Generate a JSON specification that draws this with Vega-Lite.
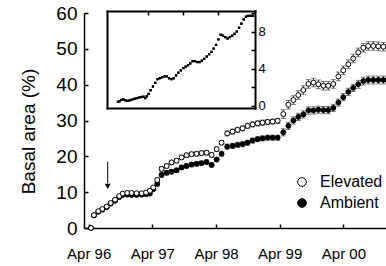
{
  "$schema": "https://vega.github.io/schema/vega-lite/v6.json",
  "width": 302,
  "height": 215,
  "autosize": {"type": "none"},
  "padding": {"left": 84, "top": 13, "right": 0, "bottom": 38},
  "config": {
    "view": {"stroke": null},
    "font": "Liberation Sans",
    "axis": {"grid": false, "domainColor": "black", "tickColor": "black", "labelColor": "black", "titleColor": "black", "labelFont": "Liberation Sans", "titleFont": "Liberation Sans", "titleFontWeight": "normal"},
    "legend": {"labelFont": "Liberation Sans"}
  },
  "datasets": {
    "main": [
      {"date": "1996-04-14", "treatment": "Ambient", "value": 0, "err": 0.3},
      {"date": "1996-05-01", "treatment": "Ambient", "value": 3.5, "err": 0.3},
      {"date": "1996-05-26", "treatment": "Ambient", "value": 4.5, "err": 0.3},
      {"date": "1996-06-18", "treatment": "Ambient", "value": 5.1, "err": 0.3},
      {"date": "1996-07-13", "treatment": "Ambient", "value": 5.8, "err": 0.3},
      {"date": "1996-08-05", "treatment": "Ambient", "value": 6.8, "err": 0.3},
      {"date": "1996-08-30", "treatment": "Ambient", "value": 7.6, "err": 0.3},
      {"date": "1996-09-23", "treatment": "Ambient", "value": 8.6, "err": 0.3},
      {"date": "1996-10-13", "treatment": "Ambient", "value": 9.2, "err": 0.3},
      {"date": "1996-11-08", "treatment": "Ambient", "value": 9.3, "err": 0.3},
      {"date": "1996-12-03", "treatment": "Ambient", "value": 9.2, "err": 0.3},
      {"date": "1997-01-01", "treatment": "Ambient", "value": 9.2, "err": 0.3},
      {"date": "1997-01-30", "treatment": "Ambient", "value": 9.3, "err": 0.3},
      {"date": "1997-02-24", "treatment": "Ambient", "value": 9.4, "err": 0.3},
      {"date": "1997-03-18", "treatment": "Ambient", "value": 9.6, "err": 0.3},
      {"date": "1997-04-06", "treatment": "Ambient", "value": 10.8, "err": 0.3},
      {"date": "1997-04-29", "treatment": "Ambient", "value": 12.3, "err": 0.6},
      {"date": "1997-05-24", "treatment": "Ambient", "value": 14.8, "err": 0.6},
      {"date": "1997-06-22", "treatment": "Ambient", "value": 15.4, "err": 0.6},
      {"date": "1997-07-20", "treatment": "Ambient", "value": 15.7, "err": 0.6},
      {"date": "1997-08-18", "treatment": "Ambient", "value": 16.1, "err": 0.6},
      {"date": "1997-09-16", "treatment": "Ambient", "value": 16.9, "err": 0.6},
      {"date": "1997-10-14", "treatment": "Ambient", "value": 17.3, "err": 0.6},
      {"date": "1997-11-12", "treatment": "Ambient", "value": 17.7, "err": 0.6},
      {"date": "1997-12-11", "treatment": "Ambient", "value": 17.9, "err": 0.6},
      {"date": "1998-01-08", "treatment": "Ambient", "value": 18.1, "err": 0.6},
      {"date": "1998-02-06", "treatment": "Ambient", "value": 18.4, "err": 0.6},
      {"date": "1998-03-07", "treatment": "Ambient", "value": 17.6, "err": 0.6},
      {"date": "1998-04-05", "treatment": "Ambient", "value": 19.1, "err": 0.6},
      {"date": "1998-05-03", "treatment": "Ambient", "value": 20.7, "err": 0.6},
      {"date": "1998-06-04", "treatment": "Ambient", "value": 22.7, "err": 0.7},
      {"date": "1998-07-05", "treatment": "Ambient", "value": 22.9, "err": 0.7},
      {"date": "1998-08-03", "treatment": "Ambient", "value": 23.2, "err": 0.7},
      {"date": "1998-09-01", "treatment": "Ambient", "value": 23.4, "err": 0.7},
      {"date": "1998-09-29", "treatment": "Ambient", "value": 23.8, "err": 0.7},
      {"date": "1998-10-28", "treatment": "Ambient", "value": 24.4, "err": 0.7},
      {"date": "1998-11-26", "treatment": "Ambient", "value": 24.8, "err": 0.7},
      {"date": "1998-12-24", "treatment": "Ambient", "value": 25.0, "err": 0.7},
      {"date": "1999-01-22", "treatment": "Ambient", "value": 25.2, "err": 0.7},
      {"date": "1999-02-20", "treatment": "Ambient", "value": 25.2, "err": 0.7},
      {"date": "1999-03-21", "treatment": "Ambient", "value": 25.2, "err": 0.7},
      {"date": "1999-04-22", "treatment": "Ambient", "value": 26.7, "err": 1.0},
      {"date": "1999-05-21", "treatment": "Ambient", "value": 28.5, "err": 1.0},
      {"date": "1999-06-19", "treatment": "Ambient", "value": 30.0, "err": 1.0},
      {"date": "1999-07-17", "treatment": "Ambient", "value": 31.0, "err": 1.0},
      {"date": "1999-08-15", "treatment": "Ambient", "value": 31.7, "err": 1.0},
      {"date": "1999-09-13", "treatment": "Ambient", "value": 32.8, "err": 1.0},
      {"date": "1999-10-12", "treatment": "Ambient", "value": 32.8, "err": 1.0},
      {"date": "1999-11-09", "treatment": "Ambient", "value": 33.0, "err": 1.0},
      {"date": "1999-12-08", "treatment": "Ambient", "value": 32.9, "err": 1.0},
      {"date": "2000-01-05", "treatment": "Ambient", "value": 32.9, "err": 1.0},
      {"date": "2000-02-03", "treatment": "Ambient", "value": 33.5, "err": 1.0},
      {"date": "2000-03-03", "treatment": "Ambient", "value": 35.0, "err": 1.0},
      {"date": "2000-03-31", "treatment": "Ambient", "value": 36.5, "err": 1.0},
      {"date": "2000-04-29", "treatment": "Ambient", "value": 38.0, "err": 1.0},
      {"date": "2000-05-27", "treatment": "Ambient", "value": 39.1, "err": 1.0},
      {"date": "2000-06-25", "treatment": "Ambient", "value": 40.1, "err": 1.1},
      {"date": "2000-07-24", "treatment": "Ambient", "value": 41.0, "err": 1.1},
      {"date": "2000-08-21", "treatment": "Ambient", "value": 41.3, "err": 1.1},
      {"date": "2000-09-19", "treatment": "Ambient", "value": 41.3, "err": 1.1},
      {"date": "2000-10-18", "treatment": "Ambient", "value": 41.3, "err": 1.1},
      {"date": "2000-11-16", "treatment": "Ambient", "value": 41.3, "err": 1.1},
      {"date": "1996-04-14", "treatment": "Elevated", "value": 0, "err": 0.3},
      {"date": "1996-05-01", "treatment": "Elevated", "value": 3.6, "err": 0.3},
      {"date": "1996-05-26", "treatment": "Elevated", "value": 4.7, "err": 0.3},
      {"date": "1996-06-18", "treatment": "Elevated", "value": 5.3, "err": 0.3},
      {"date": "1996-07-13", "treatment": "Elevated", "value": 6.0, "err": 0.3},
      {"date": "1996-08-05", "treatment": "Elevated", "value": 7.0, "err": 0.3},
      {"date": "1996-08-30", "treatment": "Elevated", "value": 7.9, "err": 0.3},
      {"date": "1996-09-23", "treatment": "Elevated", "value": 8.9, "err": 0.3},
      {"date": "1996-10-13", "treatment": "Elevated", "value": 9.6, "err": 0.3},
      {"date": "1996-11-08", "treatment": "Elevated", "value": 9.8, "err": 0.3},
      {"date": "1996-12-03", "treatment": "Elevated", "value": 9.8, "err": 0.3},
      {"date": "1997-01-01", "treatment": "Elevated", "value": 9.7, "err": 0.3},
      {"date": "1997-01-30", "treatment": "Elevated", "value": 9.7, "err": 0.3},
      {"date": "1997-02-24", "treatment": "Elevated", "value": 9.9, "err": 0.3},
      {"date": "1997-03-18", "treatment": "Elevated", "value": 10.4, "err": 0.3},
      {"date": "1997-04-06", "treatment": "Elevated", "value": 11.3, "err": 0.3},
      {"date": "1997-04-29", "treatment": "Elevated", "value": 13.4, "err": 0.6},
      {"date": "1997-05-24", "treatment": "Elevated", "value": 16.5, "err": 0.6},
      {"date": "1997-06-22", "treatment": "Elevated", "value": 17.3, "err": 0.6},
      {"date": "1997-07-20", "treatment": "Elevated", "value": 18.3, "err": 0.6},
      {"date": "1997-08-18", "treatment": "Elevated", "value": 18.8, "err": 0.6},
      {"date": "1997-09-16", "treatment": "Elevated", "value": 19.7, "err": 0.6},
      {"date": "1997-10-14", "treatment": "Elevated", "value": 20.3, "err": 0.6},
      {"date": "1997-11-12", "treatment": "Elevated", "value": 20.6, "err": 0.6},
      {"date": "1997-12-11", "treatment": "Elevated", "value": 20.7, "err": 0.6},
      {"date": "1998-01-08", "treatment": "Elevated", "value": 20.9, "err": 0.6},
      {"date": "1998-02-06", "treatment": "Elevated", "value": 21.0, "err": 0.6},
      {"date": "1998-03-07", "treatment": "Elevated", "value": 20.4, "err": 0.6},
      {"date": "1998-04-05", "treatment": "Elevated", "value": 22.0, "err": 0.6},
      {"date": "1998-05-03", "treatment": "Elevated", "value": 23.8, "err": 0.6},
      {"date": "1998-06-04", "treatment": "Elevated", "value": 26.4, "err": 0.7},
      {"date": "1998-07-05", "treatment": "Elevated", "value": 26.9, "err": 0.7},
      {"date": "1998-08-03", "treatment": "Elevated", "value": 27.4, "err": 0.7},
      {"date": "1998-09-01", "treatment": "Elevated", "value": 27.8, "err": 0.7},
      {"date": "1998-09-29", "treatment": "Elevated", "value": 28.5, "err": 0.7},
      {"date": "1998-10-28", "treatment": "Elevated", "value": 28.9, "err": 0.7},
      {"date": "1998-11-26", "treatment": "Elevated", "value": 29.2, "err": 0.7},
      {"date": "1998-12-24", "treatment": "Elevated", "value": 29.4, "err": 0.7},
      {"date": "1999-01-22", "treatment": "Elevated", "value": 29.6, "err": 0.7},
      {"date": "1999-02-20", "treatment": "Elevated", "value": 29.7, "err": 0.7},
      {"date": "1999-03-21", "treatment": "Elevated", "value": 29.9, "err": 0.7},
      {"date": "1999-04-22", "treatment": "Elevated", "value": 31.8, "err": 1.2},
      {"date": "1999-05-21", "treatment": "Elevated", "value": 34.4, "err": 1.2},
      {"date": "1999-06-19", "treatment": "Elevated", "value": 35.7, "err": 1.2},
      {"date": "1999-07-17", "treatment": "Elevated", "value": 37.1, "err": 1.2},
      {"date": "1999-08-15", "treatment": "Elevated", "value": 38.5, "err": 1.2},
      {"date": "1999-09-13", "treatment": "Elevated", "value": 40.2, "err": 1.2},
      {"date": "1999-10-12", "treatment": "Elevated", "value": 40.6, "err": 1.2},
      {"date": "1999-11-09", "treatment": "Elevated", "value": 40.1, "err": 1.2},
      {"date": "1999-12-08", "treatment": "Elevated", "value": 39.7, "err": 1.2},
      {"date": "2000-01-05", "treatment": "Elevated", "value": 39.7, "err": 1.2},
      {"date": "2000-02-03", "treatment": "Elevated", "value": 40.2, "err": 1.2},
      {"date": "2000-03-03", "treatment": "Elevated", "value": 42.3, "err": 1.2},
      {"date": "2000-03-31", "treatment": "Elevated", "value": 44.0, "err": 1.2},
      {"date": "2000-04-29", "treatment": "Elevated", "value": 45.7, "err": 1.2},
      {"date": "2000-05-27", "treatment": "Elevated", "value": 47.3, "err": 1.2},
      {"date": "2000-06-25", "treatment": "Elevated", "value": 49.0, "err": 1.2},
      {"date": "2000-07-24", "treatment": "Elevated", "value": 50.3, "err": 1.2},
      {"date": "2000-08-21", "treatment": "Elevated", "value": 50.8, "err": 1.2},
      {"date": "2000-09-19", "treatment": "Elevated", "value": 50.8, "err": 1.2},
      {"date": "2000-10-18", "treatment": "Elevated", "value": 50.7, "err": 1.2},
      {"date": "2000-11-16", "treatment": "Elevated", "value": 50.6, "err": 1.2}
    ],
    "inset": [
      {"date": "1996-04-14", "diff": 0.45}, {"date": "1996-05-01", "diff": 0.5}, {"date": "1996-05-26", "diff": 0.65},
      {"date": "1996-06-18", "diff": 0.72}, {"date": "1996-07-13", "diff": 0.62}, {"date": "1996-08-05", "diff": 0.55},
      {"date": "1996-08-30", "diff": 0.58}, {"date": "1996-09-23", "diff": 0.65}, {"date": "1996-10-13", "diff": 0.72},
      {"date": "1996-11-08", "diff": 0.78}, {"date": "1996-12-03", "diff": 0.85}, {"date": "1997-01-01", "diff": 0.92},
      {"date": "1997-01-30", "diff": 0.97}, {"date": "1997-02-24", "diff": 1.0}, {"date": "1997-03-18", "diff": 0.85},
      {"date": "1997-04-06", "diff": 1.05}, {"date": "1997-04-29", "diff": 1.3}, {"date": "1997-05-24", "diff": 1.7},
      {"date": "1997-06-22", "diff": 2.1}, {"date": "1997-07-20", "diff": 2.5}, {"date": "1997-08-18", "diff": 2.9},
      {"date": "1997-09-16", "diff": 3.0}, {"date": "1997-10-14", "diff": 3.1}, {"date": "1997-11-12", "diff": 3.2},
      {"date": "1997-12-11", "diff": 3.2}, {"date": "1998-01-08", "diff": 3.0}, {"date": "1998-02-06", "diff": 2.9},
      {"date": "1998-03-07", "diff": 3.0}, {"date": "1998-04-05", "diff": 3.3}, {"date": "1998-05-03", "diff": 3.6},
      {"date": "1998-06-04", "diff": 3.85}, {"date": "1998-07-05", "diff": 4.1}, {"date": "1998-08-03", "diff": 4.25},
      {"date": "1998-09-01", "diff": 4.4}, {"date": "1998-09-29", "diff": 4.6}, {"date": "1998-10-28", "diff": 4.85},
      {"date": "1998-11-26", "diff": 4.85}, {"date": "1998-12-24", "diff": 4.75}, {"date": "1999-01-22", "diff": 4.75},
      {"date": "1999-02-20", "diff": 4.9}, {"date": "1999-03-21", "diff": 5.1}, {"date": "1999-04-22", "diff": 5.35},
      {"date": "1999-05-21", "diff": 5.6}, {"date": "1999-06-19", "diff": 5.85}, {"date": "1999-07-17", "diff": 6.2},
      {"date": "1999-08-15", "diff": 6.6}, {"date": "1999-09-13", "diff": 7.2}, {"date": "1999-10-12", "diff": 7.7},
      {"date": "1999-11-09", "diff": 7.6}, {"date": "1999-12-08", "diff": 7.45}, {"date": "2000-01-05", "diff": 7.3},
      {"date": "2000-02-03", "diff": 7.45}, {"date": "2000-03-03", "diff": 7.6}, {"date": "2000-03-31", "diff": 7.8},
      {"date": "2000-04-29", "diff": 8.05}, {"date": "2000-05-27", "diff": 8.45}, {"date": "2000-06-25", "diff": 8.9},
      {"date": "2000-07-24", "diff": 9.35}, {"date": "2000-08-21", "diff": 9.65}, {"date": "2000-09-19", "diff": 9.75},
      {"date": "2000-10-18", "diff": 9.75}, {"date": "2000-11-16", "diff": 9.75}
    ]
  },
  "layer": [
    {
      "data": {"name": "main"},
      "encoding": {
        "x": {
          "field": "date", "type": "temporal",
          "scale": {"domain": [{"year": 1996, "month": 3, "date": 5}, {"year": 2000, "month": 12, "date": 1}], "nice": false},
          "axis": {
            "orient": "bottom", "title": null, "format": "%b %y", "formatType": "time",
            "values": [{"year": 1996, "month": 4, "date": 1}, {"year": 1997, "month": 4, "date": 1}, {"year": 1998, "month": 4, "date": 1}, {"year": 1999, "month": 4, "date": 1}, {"year": 2000, "month": 4, "date": 1}],
            "labelFontSize": 15, "labelPadding": 22, "tickSize": -4, "tickWidth": 1.5, "domainWidth": 1.5, "labelFlush": false, "labelOverlap": false
          }
        },
        "y": {
          "field": "value", "type": "quantitative",
          "scale": {"domain": [0, 60], "nice": false},
          "axis": {
            "orient": "left", "title": "Basal area (%)", "values": [0, 10, 20, 30, 40, 50, 60],
            "labelFontSize": 19, "labelPadding": 11, "tickSize": -4, "tickWidth": 1.5, "domainWidth": 1.5,
            "titleFontSize": 19, "titleX": -46, "titleY": 118, "labelFlush": false
          }
        }
      },
      "layer": [
        {
          "data": {"values": [{"date": "1996-07-19", "value": 18.5, "value2": 12.5}]},
          "mark": {"type": "rule", "color": "black", "strokeWidth": 1},
          "encoding": {"y2": {"field": "value2"}}
        },
        {
          "data": {"values": [{"date": "1996-07-19", "value": 11.6}]},
          "mark": {"type": "point", "shape": "triangle-down", "filled": true, "color": "black", "size": 36, "opacity": 1},
          "encoding": {}
        },
        {
          "mark": {"type": "errorbar", "ticks": {"size": 5}, "color": "#444", "thickness": 1},
          "encoding": {"yError": {"field": "err"}}
        },
        {
          "mark": {"type": "point", "filled": true, "stroke": "black", "strokeWidth": 1, "size": 24, "opacity": 1, "shape": "circle"},
          "encoding": {
            "fill": {
              "field": "treatment", "type": "nominal",
              "scale": {"domain": ["Elevated", "Ambient"], "range": ["white", "black"]},
              "legend": {
                "title": null, "orient": "none", "legendX": 210, "legendY": 161,
                "labelFontSize": 16, "symbolSize": 75, "symbolStrokeColor": "black", "symbolStrokeWidth": 1,
                "symbolType": "circle", "labelOffset": 10, "rowPadding": 5, "labelColor": "black"
              }
            }
          }
        }
      ]
    },
    {
      "data": {"name": "inset"},
      "layer": [
        {
          "mark": {"type": "point", "filled": true, "shape": "square", "size": 5, "color": "black", "opacity": 1},
          "encoding": {
            "x": {
              "field": "date", "type": "temporal",
              "scale": {"domain": [{"year": 1995, "month": 11, "date": 29}, {"year": 2000, "month": 12, "date": 11}], "range": [23, 171], "nice": false},
              "axis": {
                "orient": "top", "offset": 2, "title": null, "labels": false, "tickSize": -4, "tickWidth": 1.5, "domainWidth": 2, "domainCap": "square",
                "values": [{"year": 1997, "month": 4, "date": 21}, {"year": 1998, "month": 6, "date": 30}, {"year": 1999, "month": 9, "date": 8}]
              }
            },
            "y": {
              "field": "diff", "type": "quantitative",
              "scale": {"domain": [-0.22, 10.27], "range": [95, -2], "nice": false, "zero": false},
              "axis": {
                "orient": "right", "offset": -131, "title": null, "values": [0, 2, 4, 6, 8, 10],
                "labelExpr": "datum.value % 4 === 0 ? datum.label : ''",
                "labelFontSize": 13, "labelColor": "black", "tickSize": -4, "tickWidth": 1.5, "labelPadding": 7, "domainWidth": 2, "domainCap": "square", "labelFlush": false
              }
            }
          }
        },
        {
          "mark": {"type": "point", "filled": true, "shape": "square", "size": 5, "color": "black", "opacity": 1},
          "encoding": {
            "x": {
              "field": "date", "type": "temporal",
              "axis": {"orient": "bottom", "offset": -120, "title": null, "labels": false, "ticks": false, "domainWidth": 2, "domainCap": "square"}
            },
            "y": {
              "field": "diff", "type": "quantitative",
              "axis": {"orient": "left", "offset": -23, "title": null, "labels": false, "ticks": false, "domainWidth": 2, "domainCap": "square"}
            }
          }
        }
      ],
      "resolve": {"axis": {"x": "independent", "y": "independent"}}
    }
  ],
  "resolve": {"scale": {"x": "independent", "y": "independent"}}
}
